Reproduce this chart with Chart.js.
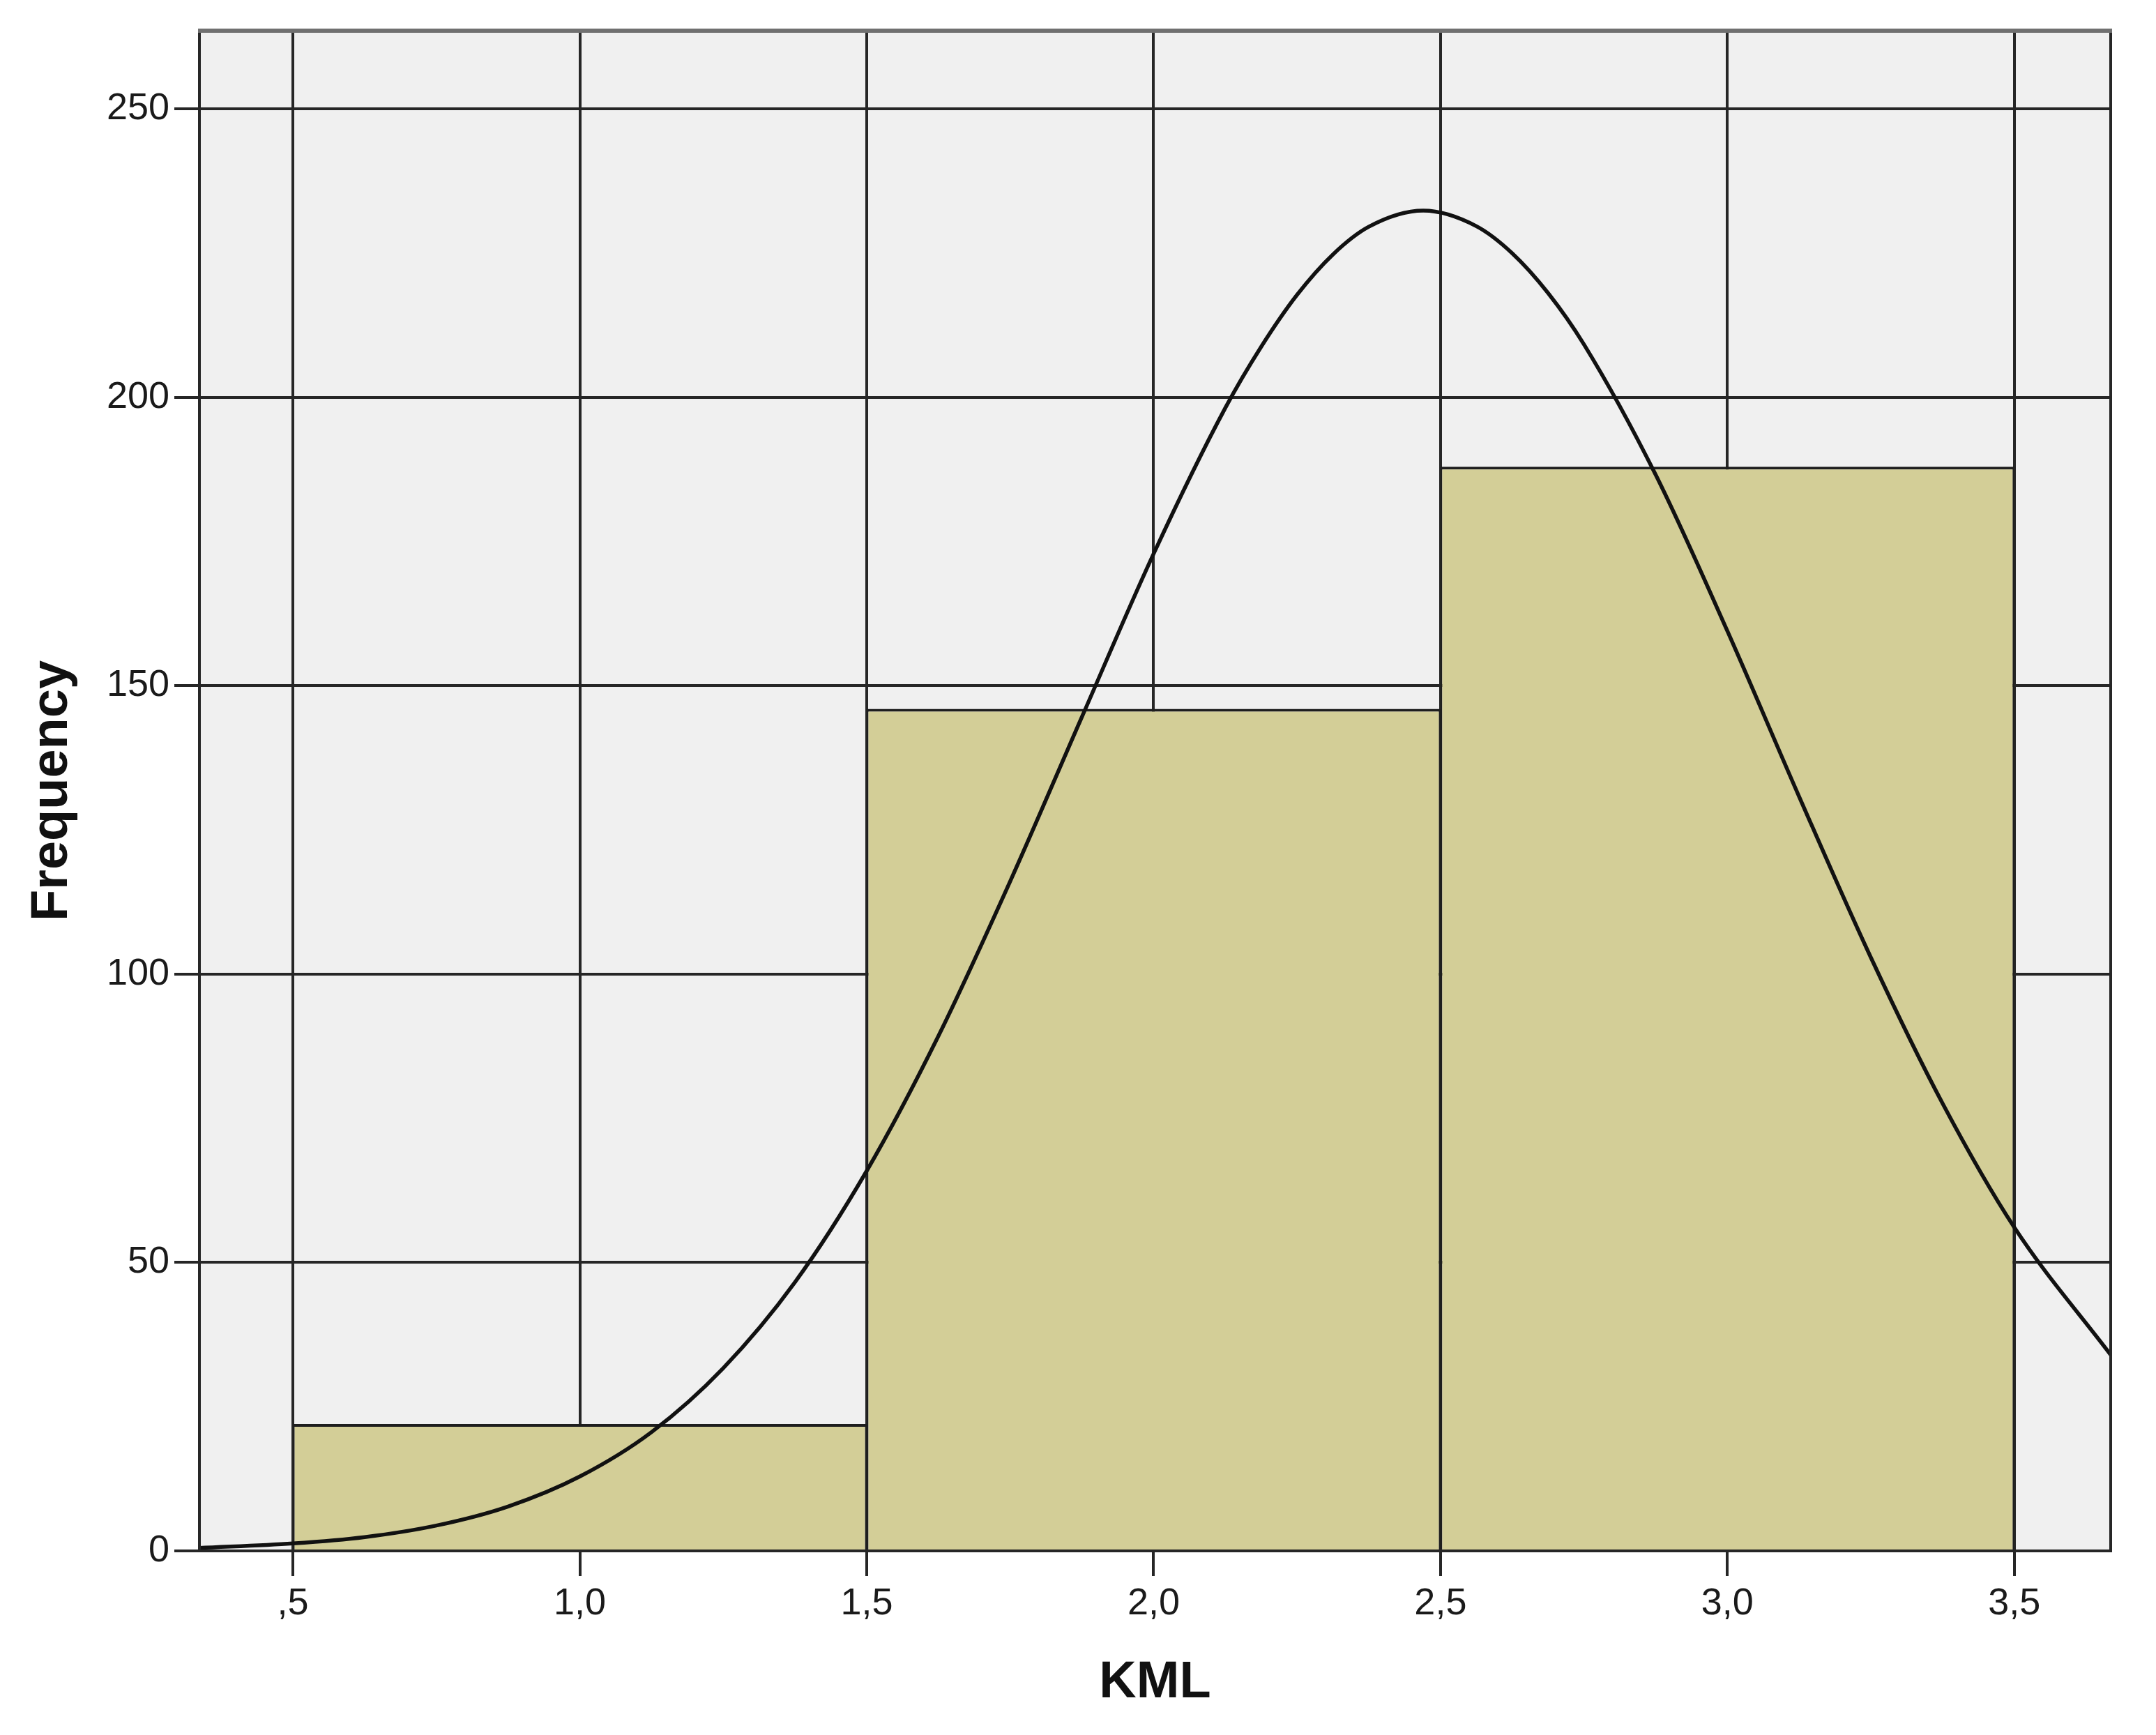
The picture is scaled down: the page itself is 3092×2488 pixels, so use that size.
<!DOCTYPE html>
<html>
<head>
<meta charset="utf-8">
<title>KML histogram</title>
<script src="https://cdn.jsdelivr.net/npm/chart.js@4.4.1/dist/chart.umd.min.js"></script>
<style>
    html, body { margin: 0; padding: 0; background: #ffffff; }
    canvas { display: block; }
</style>
</head>
<body>
<canvas id="histChart" width="3092" height="2488"></canvas>
<script>
// Histogram of KML with fitted normal curve

// bins (centre of each bar) and counts
const binCenters = [1, 2, 3];
const binCounts = [22, 146, 188];

// normal curve
const curveX = [0.337, 0.5, 0.625, 0.75, 0.875, 1.0, 1.125, 1.25, 1.375, 1.5, 1.625, 1.75, 1.875,
    2.0, 2.125, 2.1875, 2.25, 2.3125, 2.375, 2.47, 2.5625, 2.625, 2.6875, 2.75, 2.875,
    3.0, 3.125, 3.25, 3.375, 3.5, 3.668];
const curveY = [0.5, 1.3, 2.4, 4.4, 7.7, 12.9, 20.6, 31.7, 46.6, 65.9, 89.3, 116.1, 144.6,
    172.9, 198.2, 208.8, 217.8, 224.8, 229.6, 232.4, 229.7, 225.0, 218.1, 209.2, 186.6,
    159.5, 130.8, 102.9, 77.6, 56.1, 34.0];

// axis ticks
const xTicks = [0.5, 1.0, 1.5, 2.0, 2.5, 3.0, 3.5];
const xTickLabels = [',5', '1,0', '1,5', '2,0', '2,5', '3,0', '3,5'];
const yTicks = [0, 50, 100, 150, 200, 250];

const xMin = 0.337, xMax = 3.668;
const yMin = 0, yMax = 263.6;

// chart area in page pixels
const AREA_LEFT = 286, AREA_TOP = 44, AREA_RIGHT = 3027, AREA_BOTTOM = 2224;

// plot background + frame
const plotFrame = {
    id: 'plotFrame',
    beforeDraw(chart) {
        const { ctx, chartArea: a } = chart;
        ctx.save();
        ctx.fillStyle = '#f0f0f0';
        ctx.fillRect(a.left, a.top, a.right - a.left, a.bottom - a.top);
        ctx.restore();
    },
    afterDraw(chart) {
        const { ctx, chartArea: a } = chart;
        ctx.save();
        ctx.strokeStyle = '#262626';
        ctx.lineWidth = 4;
        ctx.beginPath();
        ctx.moveTo(a.left, a.top);
        ctx.lineTo(a.left, a.bottom);
        ctx.lineTo(a.right, a.bottom);
        ctx.lineTo(a.right, a.top);
        ctx.stroke();
        // top edge is lighter
        ctx.strokeStyle = '#707070';
        ctx.lineWidth = 6;
        ctx.beginPath();
        ctx.moveTo(a.left - 2, a.top);
        ctx.lineTo(a.right + 2, a.top);
        ctx.stroke();
        ctx.restore();
    }
};

const tickFont = { family: '"Liberation Sans", Arial, sans-serif', size: 54 };
const titleFont = { family: '"Liberation Sans", Arial, sans-serif', size: 74, weight: 'bold' };

const ctx = document.getElementById('histChart').getContext('2d');
new Chart(ctx, {
    data: {
        datasets: [
            {
                type: 'line',
                label: 'Normal',
                data: curveX.map((x, i) => ({ x: x, y: curveY[i] })),
                borderColor: '#111111',
                borderWidth: 5.5,
                pointRadius: 0,
                cubicInterpolationMode: 'monotone',
                fill: false,
                order: 0
            },
            {
                type: 'bar',
                label: 'KML',
                data: binCenters.map((x, i) => ({ x: x, y: binCounts[i] })),
                backgroundColor: '#d3ce97',
                borderColor: '#1e1e1e',
                borderWidth: { top: 4, left: 2.5, right: 2.5, bottom: 0 },
                borderSkipped: false,
                // the bar ruler uses the 0.5 tick spacing, so 2x gives a full bin width of 1
                barPercentage: 1.0,
                categoryPercentage: 2.0,
                order: 1
            }
        ]
    },
    options: {
        responsive: false,
        animation: false,
        devicePixelRatio: 1,
        layout: {
            padding: { top: AREA_TOP, right: 3092 - AREA_RIGHT, left: 0, bottom: 0 }
        },
        plugins: {
            legend: { display: false },
            tooltip: { enabled: false }
        },
        scales: {
            x: {
                type: 'linear',
                offset: false,
                min: xMin,
                max: xMax,
                afterBuildTicks: (scale) => {
                    scale.ticks = xTicks.map(v => ({ value: v }));
                },
                afterFit: (scale) => {
                    scale.height = 2488 - AREA_BOTTOM;
                },
                ticks: {
                    font: tickFont,
                    color: '#1a1a1a',
                    padding: 8,
                    autoSkip: false,
                    maxRotation: 0,
                    callback: (value) => {
                        const i = xTicks.indexOf(value);
                        return i >= 0 ? xTickLabels[i] : '';
                    }
                },
                grid: {
                    offset: false,
                    color: '#262626',
                    lineWidth: 4,
                    drawTicks: true,
                    tickLength: 36,
                    tickColor: '#262626',
                    tickWidth: 4
                },
                border: { display: false },
                title: {
                    display: true,
                    text: 'KML',
                    font: titleFont,
                    color: '#111111',
                    padding: { top: 0, bottom: 30 }
                }
            },
            y: {
                type: 'linear',
                min: yMin,
                max: yMax,
                afterBuildTicks: (scale) => {
                    scale.ticks = yTicks.map(v => ({ value: v }));
                },
                afterFit: (scale) => {
                    scale.width = AREA_LEFT;
                },
                ticks: {
                    font: tickFont,
                    color: '#1a1a1a',
                    padding: 7
                },
                grid: {
                    color: '#262626',
                    lineWidth: 4,
                    drawTicks: true,
                    tickLength: 36,
                    tickColor: '#262626',
                    tickWidth: 4
                },
                border: { display: false },
                title: {
                    display: true,
                    text: 'Frequency',
                    font: titleFont,
                    color: '#111111',
                    padding: { top: 31, bottom: 0 }
                }
            }
        }
    },
    plugins: [plotFrame]
});
</script>
</body>
</html>
